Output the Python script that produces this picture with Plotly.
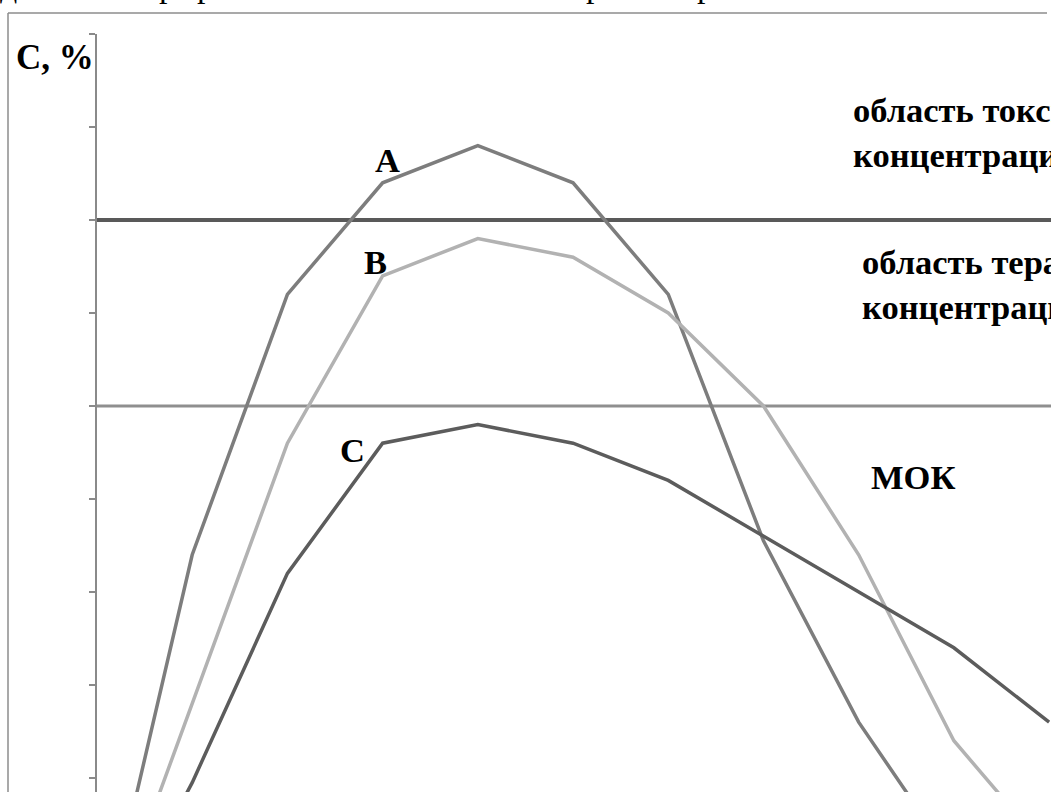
import plotly.graph_objects as go

# ---- data ----
x_points = list(range(11))
curve_a = [0, 4.4, 7.2, 8.4, 8.8, 8.4, 7.2, 4.55, 2.6, 1.1]
curve_b = [0, 2.8, 5.6, 7.4, 7.8, 7.6, 7.0, 6.0, 4.4, 2.4, 1.2]
curve_c = [0, 1.95, 4.2, 5.6, 5.8, 5.6, 5.2, 4.6, 4.0, 3.4, 2.6]
toxic_level = 8.0      # upper boundary (toxic concentrations)
moc_level = 6.0        # МОК level
y_ticks = [2, 3, 4, 5, 6, 7, 8, 9, 10]
x_range = [0, 10.02]
y_range = [1.849, 10]

# ---- layout geometry ----
W, H = 1051, 792
ML, MR, MT, MB = 97, 0, 34, 0
PW, PH = W - ML - MR, H - MT - MB


def px(xp):
    return (xp - ML) / PW


def py(yp):
    return (H - MB - yp) / PH


FONT = "Liberation Serif, Times New Roman, serif"
AXIS_GRAY = "#8a8a8a"

fig = go.Figure()

# horizontal level lines
fig.add_trace(go.Scatter(x=[x_range[0], x_range[1] + 1], y=[toxic_level] * 2, mode="lines",
                         line=dict(color="#595959", width=4), hoverinfo="skip", showlegend=False))
fig.add_trace(go.Scatter(x=[x_range[0], x_range[1] + 1], y=[moc_level] * 2, mode="lines",
                         line=dict(color="#8f8f8f", width=3), hoverinfo="skip", showlegend=False))

# curves
fig.add_trace(go.Scatter(x=x_points[:len(curve_a)], y=curve_a, mode="lines", name="A",
                         line=dict(color="#7d7d7d", width=3.5), showlegend=False))
fig.add_trace(go.Scatter(x=x_points[:len(curve_b)], y=curve_b, mode="lines", name="B",
                         line=dict(color="#b2b2b2", width=3.5), showlegend=False))
fig.add_trace(go.Scatter(x=x_points[:len(curve_c)], y=curve_c, mode="lines", name="C",
                         line=dict(color="#5c5c5c", width=3.5), showlegend=False))

annotations = []


def add_text(text, xp, yp, size=34.5, xanchor="center", yanchor="middle", align="center"):
    annotations.append(dict(text=text, x=px(xp), y=py(yp), xref="paper", yref="paper",
                            xanchor=xanchor, yanchor=yanchor, align=align, showarrow=False,
                            font=dict(family=FONT, size=size, color="black")))


add_text("<b>С, %</b>", 55, 57, size=35)
add_text("<b>A</b>", 387, 160)
add_text("<b>B</b>", 375, 262)
add_text("<b>C</b>", 352, 450)
add_text("<b>МОК</b>", 913, 477)
add_text("<b>область токсических<br>концентраций</b>", 851, 132, xanchor="left", align="left")
add_text("<b>область терапевтических<br>концентраций</b>", 860, 284, xanchor="left", align="left")

# fragments of the document text above the chart (only descenders visible)
for ch, xp in [("д", 8), ("р", 167), ("р", 205), ("р", 594), ("р", 705)]:
    add_text(ch, xp, 6, size=34, yanchor="bottom")

shapes = [
    # outer chart frame (top and left edges)
    dict(type="line", xref="paper", yref="paper", x0=px(8), x1=px(1047), y0=py(13), y1=py(13),
         line=dict(color="#8c8c8c", width=1.5)),
    dict(type="line", xref="paper", yref="paper", x0=px(8), x1=px(8), y0=py(13), y1=py(800),
         line=dict(color="#8c8c8c", width=1.5)),
]

fig.update_layout(
    width=W, height=H,
    margin=dict(l=ML, r=MR, t=MT, b=MB, pad=0),
    paper_bgcolor="white", plot_bgcolor="white",
    showlegend=False,
    annotations=annotations,
    shapes=shapes,
    xaxis=dict(range=x_range, visible=False, fixedrange=True),
    yaxis=dict(range=y_range, tickvals=y_ticks, showticklabels=False, ticks="outside",
               ticklen=6, tickwidth=1.5, tickcolor=AXIS_GRAY, showline=True,
               linecolor=AXIS_GRAY, linewidth=1.5, showgrid=False, zeroline=False,
               fixedrange=True),
)

fig.write_html(
    "out.html",
    config={"displayModeBar": False},
    post_script="document.body.style.margin='0';document.body.style.overflow='hidden';",
)
